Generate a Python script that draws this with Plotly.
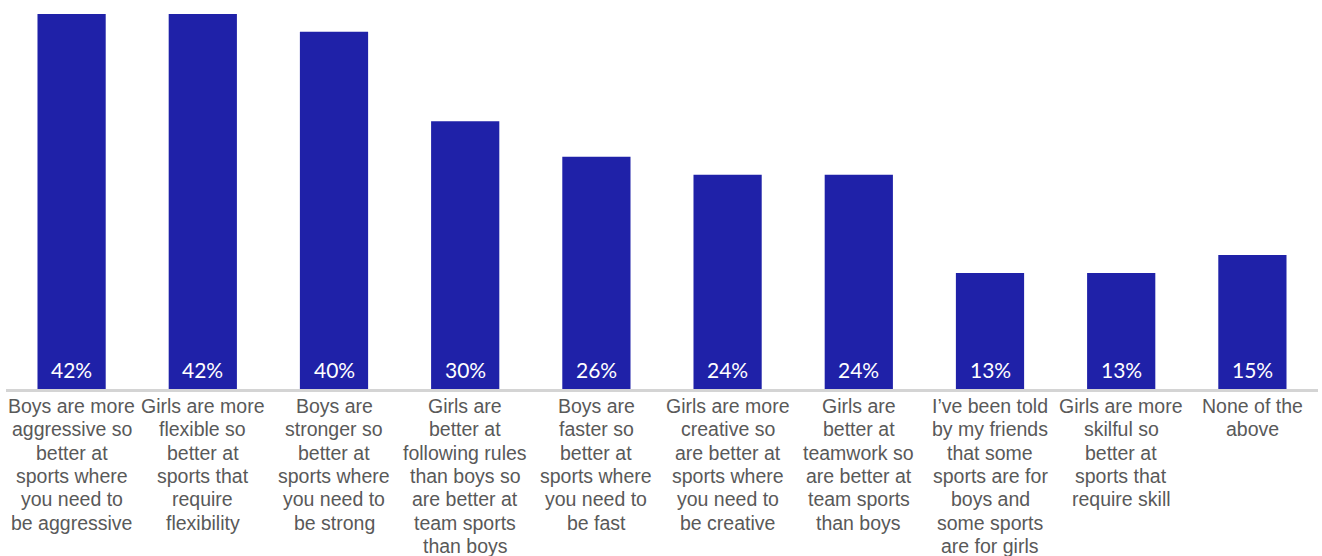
import plotly.graph_objects as go

# Survey statements (line breaks mark how each label wraps under its bar)
categories = [
    "Boys are more<br>aggressive so<br>better at<br>sports where<br>you need to<br>be aggressive",
    "Girls are more<br>flexible so<br>better at<br>sports that<br>require<br>flexibility",
    "Boys are<br>stronger so<br>better at<br>sports where<br>you need to<br>be strong",
    "Girls are<br>better at<br>following rules<br>than boys so<br>are better at<br>team sports<br>than boys",
    "Boys are<br>faster so<br>better at<br>sports where<br>you need to<br>be fast",
    "Girls are more<br>creative so<br>are better at<br>sports where<br>you need to<br>be creative",
    "Girls are<br>better at<br>teamwork so<br>are better at<br>team sports<br>than boys",
    "I’ve been told<br>by my friends<br>that some<br>sports are for<br>boys and<br>some sports<br>are for girls",
    "Girls are more<br>skilful so<br>better at<br>sports that<br>require skill",
    "None of the<br>above",
]
percentages = [42, 42, 40, 30, 26, 24, 24, 13, 13, 15]

BAR_COLOR = "#1F21A8"
LABEL_COLOR = "#595959"
AXIS_COLOR = "#D4D4D4"
LINE_STEP = 23.3

fig = go.Figure(
    go.Bar(
        x=categories,
        y=percentages,
        marker=dict(color=BAR_COLOR, line=dict(width=0)),
        hoverinfo="skip",
    )
)

annotations = []
for cat, val in zip(categories, percentages):
    # value label sitting just above the baseline inside each bar
    annotations.append(
        dict(
            x=cat,
            y=0,
            xref="x",
            yref="y",
            text=f"{val}%",
            showarrow=False,
            xanchor="center",
            yanchor="bottom",
            yshift=6,
            font=dict(family="Lato", size=21, color="white"),
            borderpad=0,
        )
    )
    # wrapped category label, one annotation per line for tight line spacing
    for i, line in enumerate(cat.split("<br>")):
        annotations.append(
            dict(
                x=cat,
                y=0,
                xref="x",
                yref="y",
                text=line,
                showarrow=False,
                xanchor="center",
                yanchor="top",
                yshift=-(5 + i * LINE_STEP),
                font=dict(family="Liberation Sans, Arial", size=19.5, color=LABEL_COLOR),
                borderpad=0,
            )
        )

fig.update_layout(
    width=1322,
    height=556,
    margin=dict(l=6, r=4, t=0, b=167),
    paper_bgcolor="white",
    plot_bgcolor="white",
    bargap=0.48,
    showlegend=False,
    annotations=annotations,
    xaxis=dict(
        showticklabels=False,
        ticks="",
        showgrid=False,
        showline=True,
        linecolor=AXIS_COLOR,
        linewidth=2.5,
        zeroline=False,
    ),
    yaxis=dict(
        range=[0, 43.57],
        visible=False,
        showgrid=False,
        zeroline=False,
    ),
)

fig.write_html("out.html")
